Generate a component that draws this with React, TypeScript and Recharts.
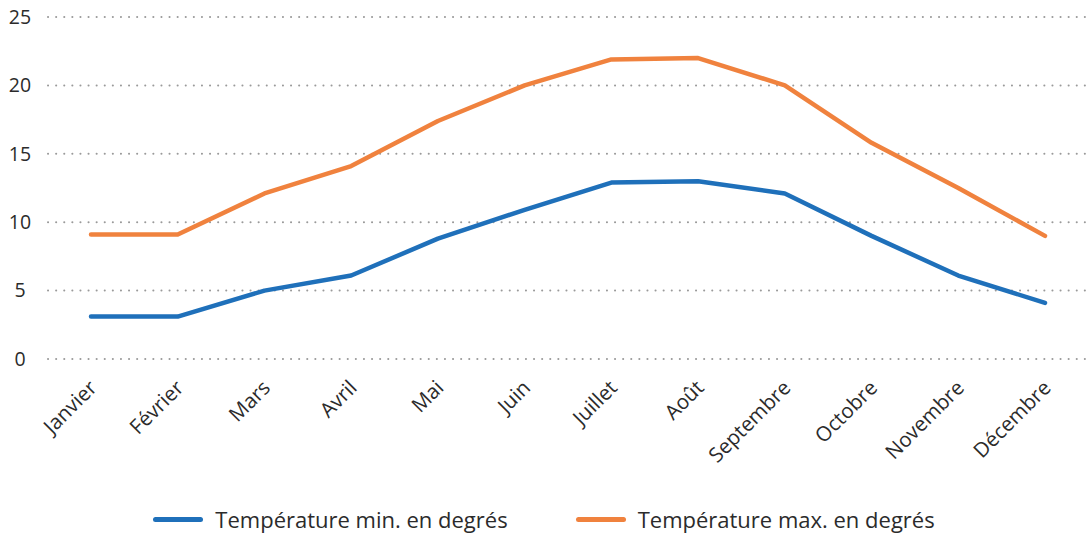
import { CartesianGrid, Legend, Line, LineChart, XAxis, YAxis } from "recharts";

const months = [
  "Janvier",
  "Février",
  "Mars",
  "Avril",
  "Mai",
  "Juin",
  "Juillet",
  "Août",
  "Septembre",
  "Octobre",
  "Novembre",
  "Décembre",
];
const minTemps = [3.1, 3.1, 5, 6.1, 8.8, 10.9, 12.9, 13, 12.1, 9, 6.1, 4.1];
const maxTemps = [9.1, 9.1, 12.1, 14.1, 17.4, 20, 21.9, 22, 20, 15.8, 12.5, 9];
const yTicks = [0, 5, 10, 15, 20, 25];

const MIN_LABEL = "Température min. en degrés";
const MAX_LABEL = "Température max. en degrés";

const BLUE = "#1f70ba";
const ORANGE = "#f0823e";
const FONT = "'Open Sans', 'Noto Sans', sans-serif";

const data = months.map((m, i) => ({ month: m, min: minTemps[i], max: maxTemps[i] }));

function MonthTick({ x, y, payload }: any) {
  return (
    <g transform={`translate(${x + 2},${y + 17})`}>
      <text
        textAnchor="end"
        transform="rotate(-45)"
        fill="#2b2b2b"
        fontSize={20.5}
        fontFamily={FONT}
        dy="0.35em"
      >
        {payload.value}
      </text>
    </g>
  );
}

function ValueTick({ y, payload }: any) {
  return (
    <text x={20} y={y} dy="0.35em" textAnchor="middle" fill="#2b2b2b" fontSize={19.5} fontFamily={FONT}>
      {payload.value}
    </text>
  );
}

function BottomLegend() {
  const item = (color: string, label: string) => (
    <div style={{ display: "flex", alignItems: "center", gap: 12 }}>
      <div style={{ width: 50, height: 5, borderRadius: 3, background: color }} />
      <span style={{ fontSize: 22, color: "#2b2b2b", fontFamily: FONT }}>{label}</span>
    </div>
  );
  return (
    <div
      style={{
        height: 44,
        boxSizing: "border-box",
        paddingTop: 16,
        display: "flex",
        justifyContent: "center",
        alignItems: "center",
        gap: 68,
      }}
    >
      {item(BLUE, MIN_LABEL)}
      {item(ORANGE, MAX_LABEL)}
    </div>
  );
}

export default function App() {
  return (
    <div style={{ width: 1088, height: 533, background: "#fff" }}>
      <style>{`body{margin:0}`}</style>
      <LineChart width={1088} height={533} data={data} margin={{ top: 17, right: 0, bottom: 0, left: 0 }}>
        <CartesianGrid
          horizontal
          vertical={false}
          stroke="#9a9a9a"
          strokeWidth={2}
          strokeDasharray="0.1 8"
          strokeLinecap="round"
        />
        <XAxis
          dataKey="month"
          axisLine={false}
          tickLine={false}
          interval={0}
          height={130}
          padding={{ left: 43, right: 43 }}
          tick={<MonthTick />}
        />
        <YAxis
          domain={[0, 25]}
          ticks={yTicks}
          axisLine={false}
          tickLine={false}
          width={48}
          tick={<ValueTick />}
        />
        <Legend verticalAlign="bottom" content={<BottomLegend />} />
        <Line
          type="linear"
          dataKey="min"
          name={MIN_LABEL}
          stroke={BLUE}
          strokeWidth={4.5}
          strokeLinecap="round"
          strokeLinejoin="round"
          dot={false}
          activeDot={false}
          isAnimationActive={false}
        />
        <Line
          type="linear"
          dataKey="max"
          name={MAX_LABEL}
          stroke={ORANGE}
          strokeWidth={4.5}
          strokeLinecap="round"
          strokeLinejoin="round"
          dot={false}
          activeDot={false}
          isAnimationActive={false}
        />
      </LineChart>
    </div>
  );
}
